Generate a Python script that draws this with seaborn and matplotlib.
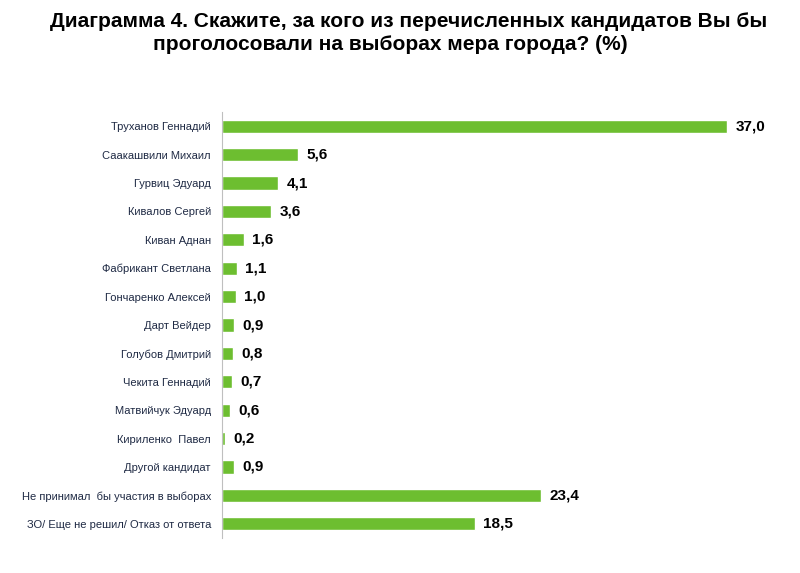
import matplotlib
matplotlib.use("Agg")
import matplotlib.pyplot as plt
import seaborn as sns
import numpy as np
import pandas as pd

candidates = [
    "Труханов Геннадий",
    "Саакашвили Михаил",
    "Гурвиц Эдуард",
    "Кивалов Сергей",
    "Киван Аднан",
    "Фабрикант Светлана",
    "Гончаренко Алексей",
    "Дарт Вейдер",
    "Голубов Дмитрий",
    "Чекита Геннадий",
    "Матвийчук Эдуард",
    "Кириленко  Павел",
    "Другой кандидат",
    "Не принимал  бы участия в выборах",
    "ЗО/ Еще не решил/ Отказ от ответа",
]
percent = [37.0, 5.6, 4.1, 3.6, 1.6, 1.1, 1.0, 0.9, 0.8, 0.7, 0.6, 0.2, 0.9, 23.4, 18.5]

df = pd.DataFrame({"candidate": candidates, "percent": percent})

sns.set_style("white")
plt.rcParams["font.family"] = ["Liberation Sans", "DejaVu Sans"]

fig = plt.figure(figsize=(8, 5.73), dpi=100)
ax = fig.add_axes([222 / 800, 1 - 538 / 573, 0.715, 426 / 573])

sns.barplot(data=df, x="percent", y="candidate", color="#6DBE30",
            width=0.46, saturation=1, ax=ax)

for i, v in enumerate(percent):
    ax.annotate(f"{v:.1f}".replace(".", ","), (v, i), xytext=(6, 0),
                textcoords="offset points", va="center", ha="left",
                fontsize=11, fontweight="bold", color="black")

ax.set_xlim(0, 41.9)
ax.set_xlabel("")
ax.set_ylabel("")
ax.set_xticks([])
for s in ["top", "right", "bottom"]:
    ax.spines[s].set_visible(False)
ax.spines["left"].set_color("#BFBFBF")
ax.spines["left"].set_linewidth(0.8)

ax.set_yticks(np.arange(len(candidates)))
ax.set_yticklabels(candidates, fontsize=8, color="#1F2A44")
ax.tick_params(axis="y", which="major", length=0, pad=8)
ax.set_yticks(np.arange(len(candidates) + 1) - 0.5, minor=True)
ax.tick_params(axis="y", which="minor", length=3, color="#BFBFBF", width=0.8)

# title: two lines, second one sits a bit left of centre
fig.text(409 / 800, 1 - 27 / 573, "Диаграмма 4. Скажите, за кого из перечисленных кандидатов Вы бы",
         ha="center", va="baseline", fontsize=15, fontweight="bold", color="black")
fig.text(390 / 800, 1 - 50 / 573, "проголосовали на выборах мера города? (%)",
         ha="center", va="baseline", fontsize=15, fontweight="bold", color="black")

fig.savefig("out.png", dpi=100)
